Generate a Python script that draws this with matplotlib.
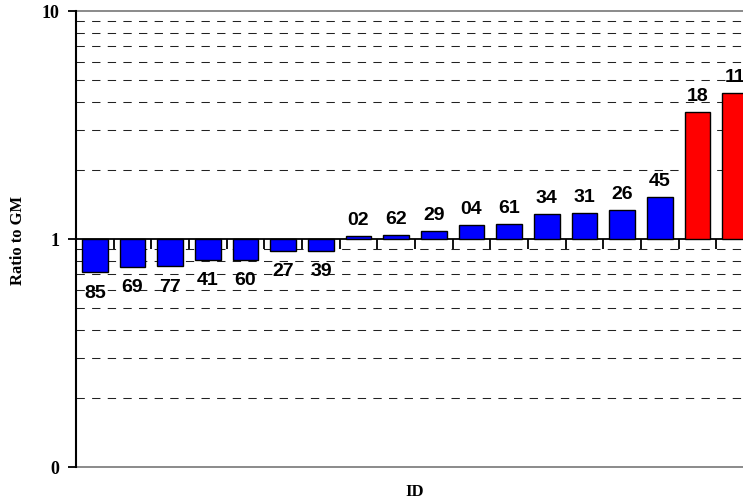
import matplotlib
matplotlib.use("Agg")
import matplotlib.pyplot as plt
from matplotlib.ticker import FixedLocator, FixedFormatter, NullFormatter
import numpy as np

# data
ids = ['85', '69', '77', '41', '60', '27', '39', '02', '62',
       '29', '04', '61', '34', '31', '26', '45', '18', '11']
ratios = [0.716, 0.754, 0.76, 0.81, 0.81, 0.886, 0.886, 1.034, 1.04,
          1.088, 1.15, 1.167, 1.29, 1.30, 1.345, 1.53, 3.6, 4.38]
bar_colors = ['#0000FF'] * 16 + ['#FF0000'] * 2

ytick_vals = [0.1, 1, 10]
ytick_labels = ['0', '1', '10']

fig = plt.figure(figsize=(7.43, 5.04), dpi=100)
ax = fig.add_axes([76/743, 37/504, 678/743, 456/504])

x = np.arange(len(ids))
base = 1.0
heights = [r - base for r in ratios]
ax.bar(x, heights, bottom=base, width=0.69, color=bar_colors,
       edgecolor='black', linewidth=1.0, zorder=3)

ax.set_yscale('log')
ax.set_ylim(0.1, 10)
ax.set_xlim(-0.5, len(ids) - 0.5)

# y ticks
ax.yaxis.set_major_locator(FixedLocator(ytick_vals))
ax.yaxis.set_major_formatter(FixedFormatter(ytick_labels))
minor = [v * d for v in (0.1, 1) for d in range(2, 10)]
ax.yaxis.set_minor_locator(FixedLocator(minor))
ax.yaxis.set_minor_formatter(NullFormatter())
ax.tick_params(axis='y', which='major', direction='out', length=6, width=1.3,
               labelsize=13, pad=6)
ax.tick_params(axis='y', which='minor', length=0)
for lab in ax.get_yticklabels():
    lab.set_fontfamily('Liberation Serif')
    lab.set_fontweight('bold')

# grid lines
for v in minor:
    ax.axhline(v, color='#222222', linewidth=0.75, linestyle=(0, (8, 7)), zorder=1)
ax.axhline(10, color='#777777', linewidth=1.2, zorder=1, clip_on=False)
ax.axhline(0.1, color='#777777', linewidth=1.2, zorder=1, clip_on=False)

# x axis sits on the ratio = 1 line, ticks between categories
ax.spines['top'].set_visible(False)
ax.spines['right'].set_visible(False)
ax.spines['left'].set_linewidth(1.5)
ax.spines['bottom'].set_position(('data', 1))
ax.spines['bottom'].set_linewidth(1.3)
ax.spines['bottom'].set_zorder(2)
ax.set_xticks(np.arange(len(ids) + 1) - 0.5)
ax.set_xticklabels([])
ax.tick_params(axis='x', direction='out', length=7, width=1.3)

# bar labels (last one is cut by the right edge, as in the original)
for i, r in enumerate(ratios):
    if r >= 1:
        ax.annotate(ids[i], (x[i], r), xytext=(0, 5), textcoords='offset points',
                    ha='center', va='bottom', fontsize=14, fontweight='bold',
                    fontfamily='Liberation Sans', annotation_clip=False)
    else:
        ax.annotate(ids[i], (x[i], r), xytext=(0, -9), textcoords='offset points',
                    ha='center', va='top', fontsize=14, fontweight='bold',
                    fontfamily='Liberation Sans')

fig.text(18/743, 1 - 240/504, 'Ratio to GM', rotation=90, ha='center', va='center',
         fontsize=12, fontweight='bold', fontfamily='Liberation Serif')
fig.text(415/743, 1 - 492/504, 'ID', ha='center', va='center',
         fontsize=12, fontweight='bold', fontfamily='Liberation Serif')

fig.savefig('out.png', dpi=100)
